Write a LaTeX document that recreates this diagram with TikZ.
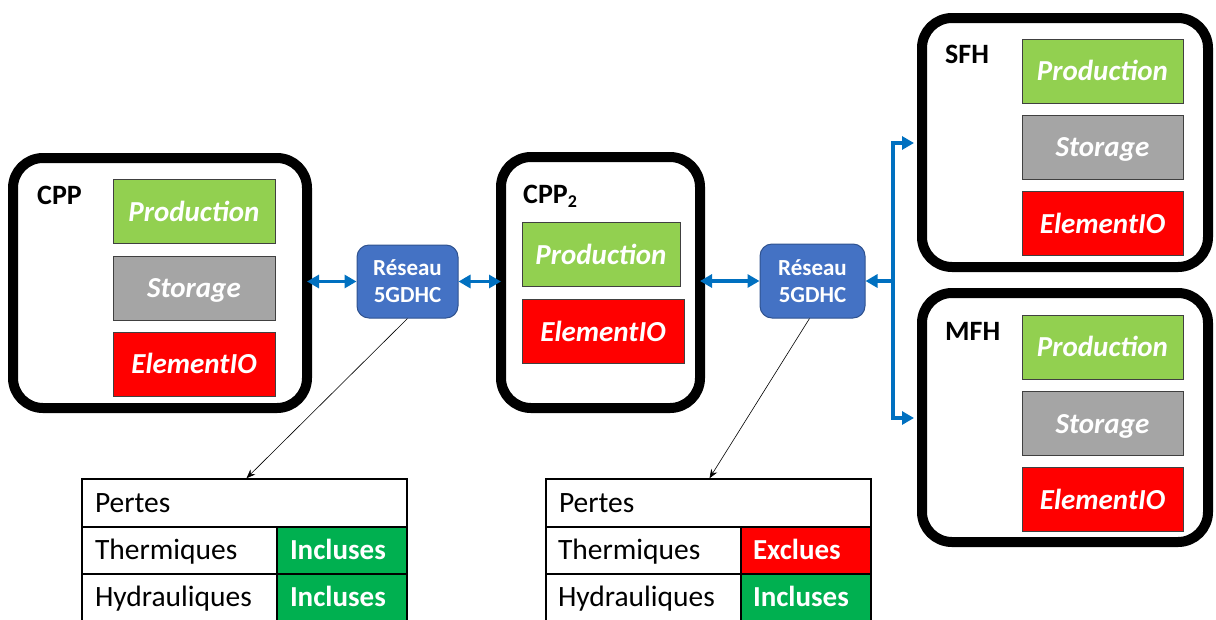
\documentclass[tikz,border=0pt]{standalone}
\usepackage{fontspec}
\setmainfont{Carlito}
\usetikzlibrary{arrows.meta}
\definecolor{prodg}{HTML}{92D050}
\definecolor{storg}{HTML}{A5A5A5}
\definecolor{eior}{HTML}{FF0000}
\definecolor{tabg}{HTML}{00B050}
\definecolor{netf}{HTML}{4472C4}
\definecolor{netd}{HTML}{2F528F}
\definecolor{linkb}{HTML}{0070C0}
\begin{document}
\begin{tikzpicture}[x=1pt,y=-1pt,
  bigbox/.style={draw=black,line width=10pt,rounded corners=30pt,rectangle,inner sep=0pt},
  comp/.style={rectangle,draw=black!75,line width=0.9pt,minimum width=162pt,minimum height=64pt,inner sep=0pt,text height=22pt,text depth=3pt,text=white,font=\fontsize{29}{31}\selectfont\bfseries\itshape},
  prod/.style={comp,fill=prodg},
  stor/.style={comp,fill=storg},
  eio/.style={comp,fill=eior},
  lab/.style={anchor=base west,inner sep=0pt,font=\fontsize{28}{30}\selectfont\bfseries},
  reseau/.style={rectangle,rounded corners=12pt,fill=netf,draw=netd,line width=1pt,text=white,align=center,inner sep=0pt,font=\fontsize{23}{27}\selectfont\bfseries},
  link/.style={draw=linkb,line width=3.2pt,arrows={-{Triangle[length=12pt,width=13pt]}}},
  dlink/.style={draw=linkb,line width=3.2pt,arrows={{Triangle[length=12pt,width=13pt]}-{Triangle[length=12pt,width=13pt]}}},
  thinarrow/.style={draw=black,line width=0.6pt,-{Stealth[length=9pt,width=7pt]}},
  cell/.style={rectangle,draw=black,line width=1.5pt,inner ysep=0pt,inner xsep=13pt,text height=21pt,text depth=3pt,align=left,font=\fontsize{29.5}{31}\selectfont},
  okcell/.style={cell,fill=tabg,text=white,font=\fontsize{29}{31}\selectfont\bfseries},
  kocell/.style={cell,fill=eior,text=white,font=\fontsize{29}{31}\selectfont\bfseries}
]
\useasboundingbox (0,0) rectangle (1216,619);
\clip (0,0) rectangle (1216,619);

% big boxes
\node[bigbox,minimum width=294pt,minimum height=250pt] (cpp) at (160,283) {};
\node[bigbox,minimum width=199pt,minimum height=251pt] (cpp2) at (600.5,282.5) {};
\node[bigbox,minimum width=286pt,minimum height=249pt] (sfh) at (1065,142.5) {};
\node[bigbox,minimum width=286pt,minimum height=249pt] (mfh) at (1065,417.5) {};

% labels
\node[lab] (cppl) at (37,204) {CPP};
\node[lab] (cpp2l) at (523,203) {CPP\raisebox{-0.35ex}{\fontsize{18}{18}\selectfont 2}};
\node[lab] (sfhl) at (945,63) {SFH};
\node[lab] (mfhl) at (945,340) {MFH};

% components
\node[prod] (cppP) at (194,211.5) {Production};
\node[stor] (cppS) at (194,288) {Storage};
\node[eio]  (cppE) at (194,364) {ElementIO};

\node[prod,minimum width=158pt] (cpp2P) at (601,254.5) {Production};
\node[eio] (cpp2E) at (603,331.5) {ElementIO};

\node[prod,minimum width=161pt] (sfhP) at (1102.5,71) {Production};
\node[stor,minimum width=161pt] (sfhS) at (1102.5,147) {Storage};
\node[eio,minimum width=161pt]  (sfhE) at (1102.5,223.5) {ElementIO};

\node[prod,minimum width=161pt] (mfhP) at (1102.5,347) {Production};
\node[stor,minimum width=161pt] (mfhS) at (1102.5,423.5) {Storage};
\node[eio,minimum width=161pt]  (mfhE) at (1102.5,499.5) {ElementIO};

% networks
\node[reseau,minimum width=101pt,minimum height=73pt] (r1) at (407.5,281.5) {Réseau\\5GDHC};
\node[reseau,minimum width=105pt,minimum height=74pt] (r2) at (812.5,281) {Réseau\\5GDHC};

% blue links
\draw[dlink,shorten <=-5pt] (r1.west -| cpp.east) -- (r1.west);
\draw[dlink,shorten >=-5pt] (r1.east) -- (r1.east -| cpp2.west);
\draw[dlink,shorten <=-5pt] (r2.west -| cpp2.east) -- (r2.west);
\coordinate (bus) at (893,281);
\coordinate (bt) at (893,143);
\coordinate (bb) at (893,418);
\draw[link] (bus) -- (r2.east);
\draw[dlink,line join=miter,shorten <=3pt,shorten >=3pt] (bt -| sfh.west) -- (bt) -- (bb) -- (bb -| mfh.west);

% tables
\node[cell,minimum width=325pt,minimum height=48pt,text width=299pt] (t1h) at (244.5,503) {Pertes};
\node[cell,minimum width=195pt,minimum height=47pt,text width=169pt] (t1a) at (179.5,550.5) {Thermiques};
\node[okcell,minimum width=130pt,minimum height=47pt,text width=104pt] (t1b) at (342,550.5) {Incluses};
\node[cell,minimum width=195pt,minimum height=47pt,text width=169pt] (t1c) at (179.5,597.5) {Hydrauliques};
\node[okcell,minimum width=130pt,minimum height=47pt,text width=104pt] (t1d) at (342,597.5) {Incluses};

\node[cell,minimum width=325pt,minimum height=48pt,text width=299pt,inner xsep=12pt] (t2h) at (708.5,503) {Pertes};
\node[cell,minimum width=195pt,minimum height=47pt,text width=171pt,inner xsep=12pt] (t2a) at (643.5,550.5) {Thermiques};
\node[kocell,minimum width=130pt,minimum height=47pt,text width=106pt,inner xsep=12pt] (t2b) at (806,550.5) {Exclues};
\node[cell,minimum width=195pt,minimum height=47pt,text width=171pt,inner xsep=12pt] (t2c) at (643.5,597.5) {Hydrauliques};
\node[okcell,minimum width=130pt,minimum height=47pt,text width=106pt,inner xsep=12pt] (t2d) at (806,597.5) {Incluses};

% thin connectors
\draw[thinarrow] (r1.south) -- ([xshift=2pt]t1h.north);
\draw[thinarrow] ([xshift=-3pt]r2.south) -- ([xshift=1pt]t2h.north);
\end{tikzpicture}
\end{document}
